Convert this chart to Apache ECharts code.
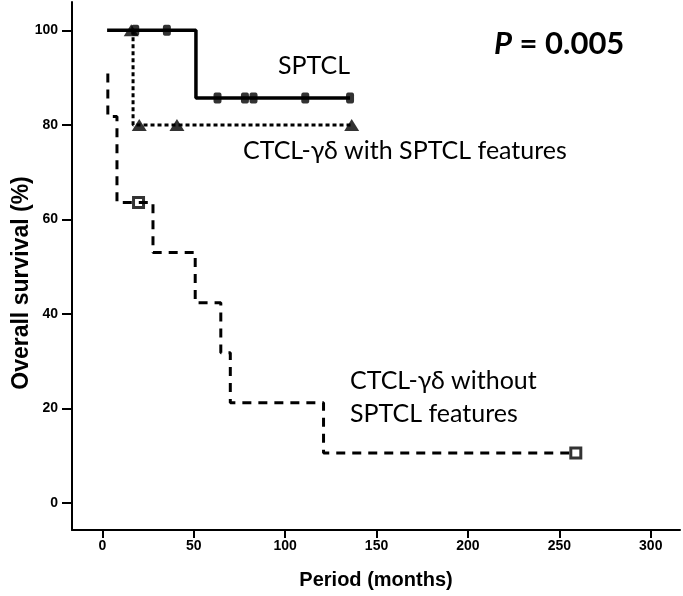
<!DOCTYPE html>
<html>
<head>
<meta charset="utf-8">
<script src="https://cdn.jsdelivr.net/npm/echarts@6/dist/echarts.min.js"></script>
<style>html,body{margin:0;padding:0;background:#fff}#c{width:683px;height:596px}</style>
</head>
<body>
<div id="c"></div>
<script>
// Tick labels
const xTicks = [0, 50, 100, 150, 200, 250, 300];
const yTicks = [0, 20, 40, 60, 80, 100];

// Kaplan-Meier step curves [months, survival %]
const sptclCurve = [[2.6, 100], [51.2, 100], [51.2, 85.7], [135.5, 85.7]];
const sptclCensor = [[18, 100], [35.3, 100], [63, 85.7], [78, 85.7], [82.7, 85.7], [111, 85.7], [135.5, 85.7]];

const withCurve = [[16.8, 100], [16.8, 80], [136.4, 80]];
const withCensor = [[15.8, 100], [20.2, 80], [40.8, 80], [136.4, 80]];

const withoutCurve = [[3, 90.9], [3, 81.8], [8, 81.8], [8, 63.6], [27.7, 63.6], [27.7, 53.0],
  [50.8, 53.0], [50.8, 42.4], [64.8, 42.4], [64.8, 31.8], [70, 31.8], [70, 21.2],
  [121, 21.2], [121, 10.6], [259, 10.6]];
const withoutCensor = [[19.8, 63.6], [259, 10.6]];

const labelFont = 'Lato, "Open Sans", sans-serif';
const axisFont = '"Liberation Sans", Arial, sans-serif';

const chart = echarts.init(document.getElementById('c'), null, {renderer: 'canvas'});
chart.setOption({
  animation: false,
  backgroundColor: '#fff',
  grid: {left: 72, right: 3, top: 2, bottom: 66},
  xAxis: {
    type: 'value', min: -16.6, max: 316,
    splitLine: {show: false},
    axisLine: {show: true, onZero: false, lineStyle: {color: '#000', width: 2}},
    axisTick: {show: true, customValues: xTicks, length: 8, lineStyle: {color: '#000', width: 2}},
    axisLabel: {customValues: xTicks, color: '#000', fontFamily: axisFont,
      fontWeight: 'bold', fontSize: 14, margin: 9},
    name: 'Period (months)', nameLocation: 'middle', nameGap: 40,
    nameTextStyle: {color: '#000', fontFamily: axisFont, fontWeight: 'bold', fontSize: 20}
  },
  yAxis: {
    type: 'value', min: -5.7, max: 106,
    splitLine: {show: false},
    axisLine: {show: true, onZero: false, lineStyle: {color: '#000', width: 2}},
    axisTick: {show: true, customValues: yTicks, length: 10, lineStyle: {color: '#000', width: 2}},
    axisLabel: {customValues: yTicks, color: '#000', fontFamily: axisFont,
      fontWeight: 'bold', fontSize: 14, margin: 14}
  },
  series: [
    {type: 'line', data: withoutCurve, showSymbol: false, silent: true,
      lineStyle: {color: '#000', width: 3, type: [9, 7]}},
    {type: 'line', data: withCurve, showSymbol: false, silent: true,
      lineStyle: {color: '#000', width: 3, type: [4, 3]}},
    {type: 'line', data: sptclCurve, showSymbol: false, silent: true,
      lineStyle: {color: '#000', width: 3.5}},
    {type: 'scatter', data: sptclCensor, symbol: 'roundRect', symbolSize: [8, 11],
      itemStyle: {color: '#000'}},
    {type: 'scatter', data: withCensor, symbol: 'triangle', symbolSize: [15, 12],
      itemStyle: {color: '#000'}},
    {type: 'scatter', data: withoutCensor, symbol: 'rect', symbolSize: 10,
      itemStyle: {color: '#fff', borderColor: '#000', borderWidth: 3}}
  ],
  graphic: [
    {type: 'text', x: 22, y: 283, rotation: Math.PI / 2,
      style: {text: 'Overall survival (%)', font: 'bold 23px ' + axisFont, fill: '#000', align: 'center', verticalAlign: 'middle'}},
    {type: 'text', left: 278, top: 53, style: {text: 'SPTCL', font: '25px ' + labelFont, fill: '#000'}},
    {type: 'text', left: 243, top: 138, style: {text: 'CTCL-γδ with SPTCL features', font: '25px ' + labelFont, fill: '#000'}},
    {type: 'text', left: 350, top: 368, style: {text: 'CTCL-γδ without', font: '25px ' + labelFont, fill: '#000'}},
    {type: 'text', left: 350, top: 401, style: {text: 'SPTCL features', font: '25px ' + labelFont, fill: '#000'}},
    {type: 'text', left: 494, top: 28, style: {rich: {p: {fontStyle: 'italic', fontWeight: 'bold', fontSize: 31, fontFamily: labelFont}, v: {fontWeight: 'bold', fontSize: 31, fontFamily: labelFont}}, text: '{p|P}{v|\u00a0=\u00a00.005}', fill: '#000'}}
  ]
});
</script>
</body>
</html>
